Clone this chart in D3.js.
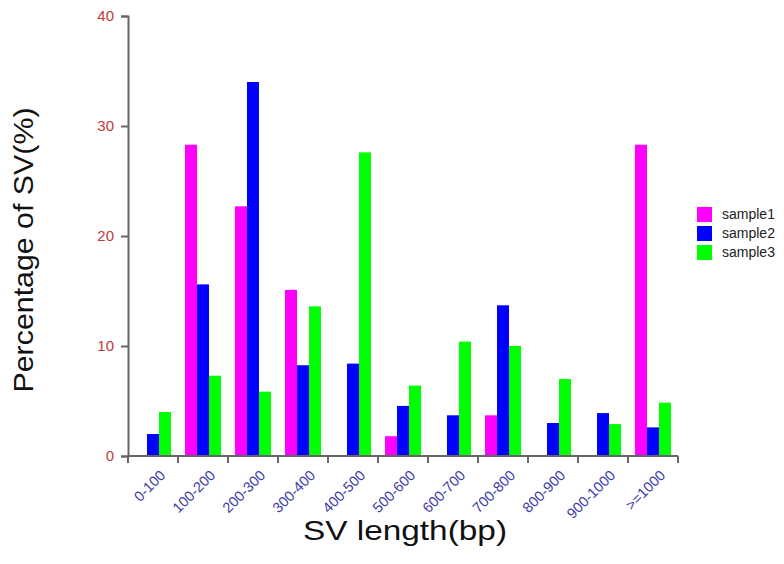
<!DOCTYPE html>
<html>
<head>
<meta charset="utf-8">
<script src="https://cdn.jsdelivr.net/npm/d3@7"></script>
<style>
  body { margin: 0; background: #fff; }
  svg { display: block; font-family: "Liberation Sans", Arial, sans-serif; }
</style>
</head>
<body>
<svg id="chart" width="784" height="564"></svg>
<script>
// data
let categories = ["0-100", "100-200", "200-300", "300-400", "400-500", "500-600",
  "600-700", "700-800", "800-900", "900-1000", ">=1000"]
let sample1 = [0, 28.3, 22.7, 15.1, 0, 1.8, 0, 3.7, 0, 0, 28.3]
let sample2 = [2.0, 15.6, 34.0, 8.25, 8.4, 4.55, 3.7, 13.7, 3.0, 3.9, 2.6]
let sample3 = [4.0, 7.3, 5.85, 13.6, 27.6, 6.4, 10.4, 10.0, 7.0, 2.9, 4.85]
let seriesNames = ["sample1", "sample2", "sample3"]
let seriesColors = ["#ff00ff", "#0000ff", "#00ff00"]
let yTicks = [0, 10, 20, 30, 40]

let svg = d3.select("#chart")

let margin = {top: 16, left: 128, right: 106, bottom: 108}
let width = 784 - margin.left - margin.right
let height = 564 - margin.top - margin.bottom

let series = [sample1, sample2, sample3]
let rows = categories.map((c, i) => ({cat: c, values: series.map((s, j) => ({name: seriesNames[j], v: s[i]}))}))

let xscale = d3.scaleBand()
  .domain(categories)
  .range([0, width])

let inner = d3.scaleBand()
  .domain(seriesNames)
  .range([7, xscale.bandwidth() - 7])

let yscale = d3.scaleLinear()
  .domain([0, 40])
  .range([height, 0])

let color = d3.scaleOrdinal().domain(seriesNames).range(seriesColors)

let g = svg.append("g").attr("transform", "translate(" + margin.left + "," + margin.top + ")")

//bars
g.selectAll(".grp")
  .data(rows)
  .enter()
  .append("g")
  .attr("transform", d => "translate(" + xscale(d.cat) + ",0)")
  .selectAll("rect")
  .data(d => d.values)
  .enter()
  .append("rect")
  .attr("x", d => inner(d.name))
  .attr("width", inner.bandwidth())
  .attr("y", d => yscale(d.v))
  .attr("height", d => height - yscale(d.v))
  .attr("fill", d => color(d.name))

//y axis
let yAxis = g.append("g")
  .call(d3.axisLeft(yscale).tickValues(yTicks).tickSize(7).tickPadding(7))
yAxis.select(".domain").attr("stroke", "#666").attr("stroke-width", 2)
yAxis.selectAll(".tick line").attr("stroke", "#666").attr("stroke-width", 2)
yAxis.selectAll(".tick text")
  .attr("fill", "#c0393b")
  .style("font-size", "15px")

//x axis, ticks on band edges
let edges = categories.map(c => xscale(c)).concat([width])
let xAxisG = g.append("g").attr("transform", "translate(0," + height + ")")
xAxisG.append("line")
  .attr("x1", 0).attr("x2", width)
  .attr("stroke", "#666").attr("stroke-width", 2)
xAxisG.selectAll(".edge")
  .data(edges)
  .enter()
  .append("line")
  .attr("x1", d => d).attr("x2", d => d)
  .attr("y1", 0).attr("y2", 7)
  .attr("stroke", "#666").attr("stroke-width", 2)
xAxisG.selectAll(".lab")
  .data(categories)
  .enter()
  .append("text")
  .attr("transform", d => "translate(" + (xscale(d) + xscale.bandwidth() / 2 + 6) + ",13) rotate(-45)")
  .attr("text-anchor", "end")
  .attr("dy", "0.7em")
  .attr("fill", "#3c3ca8")
  .style("font-size", "14.5px")
  .text(d => d)

//axis titles
svg.append("text")
  .attr("transform", "translate(33,250) rotate(-90)")
  .attr("text-anchor", "middle")
  .attr("textLength", 285)
  .attr("lengthAdjust", "spacingAndGlyphs")
  .style("font-size", "28px")
  .attr("fill", "#111")
  .text("Percentage of SV(%)")

svg.append("text")
  .attr("x", 405)
  .attr("y", 540)
  .attr("text-anchor", "middle")
  .attr("textLength", 204)
  .attr("lengthAdjust", "spacingAndGlyphs")
  .style("font-size", "28px")
  .attr("fill", "#111")
  .text("SV length(bp)")

//legend
let legend = svg.append("g").attr("transform", "translate(697,207)")
let item = legend.selectAll(".item")
  .data(seriesNames)
  .enter()
  .append("g")
  .attr("transform", (d, i) => "translate(0," + i * 19 + ")")
item.append("rect")
  .attr("width", 15).attr("height", 15)
  .attr("fill", d => color(d))
item.append("text")
  .attr("x", 25).attr("y", 12)
  .style("font-size", "14px")
  .attr("fill", "#222")
  .text(d => d)
</script>
</body>
</html>
